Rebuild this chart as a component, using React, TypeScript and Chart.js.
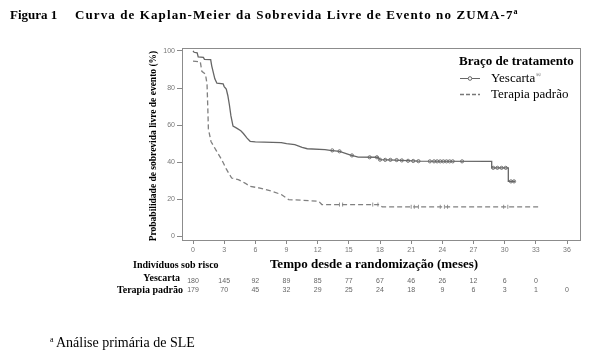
import React, { useEffect, useRef } from "react";
import { Chart, registerables } from "chart.js";
Chart.register(...registerables);

const xTicks = [0, 3, 6, 9, 12, 15, 18, 21, 24, 27, 30, 33, 36];
const yTicks = [0, 20, 40, 60, 80, 100];

const yescartaT = [0, 0.1, 0.4, 0.5, 1.0, 1.1, 1.7, 1.8, 2.1, 2.3, 2.9, 3.0, 3.2, 3.35, 3.5, 3.65, 3.85, 4.2, 4.6, 4.85, 5.2, 5.5, 6, 8.5, 9.0, 9.8, 10.5, 11, 12.7, 13.2, 14.1, 15.1, 15.9, 17.8, 18.0, 19.5, 21.7, 28.75, 28.75, 30.35, 30.35, 31.0];
const yescartaS = [100, 99.3, 99, 96.8, 96.5, 95.5, 95.3, 92, 85, 82.6, 82.3, 80.8, 79.5, 76, 71, 65, 59.5, 58.4, 57, 55.5, 53, 51.3, 51, 50.6, 50, 49.5, 48, 47.3, 46.8, 46.4, 45.9, 44, 42.8, 42.7, 41.4, 41.2, 40.6, 40.5, 37, 37, 29.7, 29.7];

const padraoT = [0, 0.7, 0.85, 1.2, 1.35, 1.42, 1.48, 1.73, 2.28, 2.76, 3.24, 3.72, 4.36, 5, 5.5, 6.45, 7.6, 8.5, 9.2, 12.1, 12.4, 18, 18.2, 33.3];
const padraoS = [94.5, 94.2, 89, 87.5, 82, 70, 58, 51.2, 45.9, 41.4, 36, 31.5, 30.6, 28.8, 27, 26.1, 24.4, 22.6, 19.9, 19, 17.2, 17.2, 16, 16];

const yesCensorT = [13.4, 14.1, 15.3, 17.0, 17.7, 18.0, 18.5, 19.0, 19.6, 20.1, 20.7, 21.2, 21.7, 22.8, 23.2, 23.5, 23.8, 24.1, 24.4, 24.7, 25.0, 25.9, 28.9, 29.3, 29.7, 30.1, 30.6, 30.9];
const yesCensorS = [46.4, 45.9, 43.7, 42.7, 42.7, 41.4, 41.3, 41.3, 41.2, 41.0, 40.8, 40.7, 40.6, 40.5, 40.5, 40.5, 40.5, 40.5, 40.5, 40.5, 40.5, 40.5, 37, 37, 37, 37, 29.7, 29.7];

const padCensorT = [14.1, 14.4, 17.3, 17.8, 21.0, 21.3, 21.7, 23.8, 24.2, 24.5, 29.9, 30.3];
const padCensorS = [17.2, 17.2, 17.2, 17.2, 16, 16, 16, 16, 16, 16, 16, 16];

const riskTimesYes = [0, 3, 6, 9, 12, 15, 18, 21, 24, 27, 30, 33];
const riskYes = [180, 145, 92, 89, 85, 77, 67, 46, 26, 12, 6, 0];
const riskTimesPad = [0, 3, 6, 9, 12, 15, 18, 21, 24, 27, 30, 33, 36];
const riskPad = [179, 70, 45, 32, 29, 25, 24, 18, 9, 6, 3, 1, 0];

const SERIF = '"Liberation Serif", "DejaVu Serif", serif';
const SANS = '"Liberation Sans", Arial, sans-serif';

const overlay = {
  id: "overlay",
  afterDraw(chart: any) {
    const ctx = chart.ctx as any;
    const a = chart.chartArea;
    const xs = chart.scales.x;
    ctx.save();
    // box
    ctx.strokeStyle = "#8c8c8c";
    ctx.lineWidth = 1;
    ctx.strokeRect(Math.round(a.left) + 0.5, Math.round(a.top) + 0.5, Math.round(a.right - a.left), Math.round(a.bottom - a.top));

    ctx.fillStyle = "#000";
    ctx.textBaseline = "middle";
    // title
    ctx.font = `bold 13px ${SERIF}`;
    ctx.textAlign = "left";
    ctx.fillText("Figura 1", 10, 16);
    const main = "Curva de Kaplan-Meier da Sobrevida Livre de Evento no ZUMA-7";
    ctx.letterSpacing = "1.1px";
    ctx.fillText(main, 75, 16);
    const tw = ctx.measureText(main).width;
    ctx.letterSpacing = "0px";
    ctx.font = `bold 8px ${SERIF}`;
    ctx.fillText("a", 75 + tw, 12);

    // y title
    ctx.save();
    ctx.translate(154, 146);
    ctx.rotate(-Math.PI / 2);
    ctx.font = `bold 9.5px ${SERIF}`;
    ctx.textAlign = "center";
    ctx.fillText("Probabilidade de sobrevida livre de evento (%)", 0, 0);
    ctx.restore();

    // x title
    ctx.font = `bold 13px ${SERIF}`;
    ctx.textAlign = "center";
    ctx.fillText("Tempo desde a randomização (meses)", 374, 265);

    // risk table
    ctx.font = `bold 10px ${SERIF}`;
    ctx.textAlign = "left";
    ctx.fillText("Indivíduos sob risco", 133, 265);
    ctx.textAlign = "right";
    ctx.fillText("Yescarta", 180, 278);
    ctx.fillText("Terapia padrão", 183, 290);
    ctx.font = `7px ${SANS}`;
    ctx.fillStyle = "#666";
    ctx.textAlign = "center";
    riskTimesYes.forEach((t, i) => ctx.fillText(String(riskYes[i]), xs.getPixelForValue(t), 281));
    riskTimesPad.forEach((t, i) => ctx.fillText(String(riskPad[i]), xs.getPixelForValue(t), 290));

    // legend
    ctx.fillStyle = "#000";
    ctx.textAlign = "left";
    ctx.font = `bold 13px ${SERIF}`;
    ctx.fillText("Braço de tratamento", 459, 62);
    ctx.strokeStyle = "#666";
    ctx.lineWidth = 1;
    ctx.beginPath();
    ctx.moveTo(460, 78.5);
    ctx.lineTo(480, 78.5);
    ctx.stroke();
    ctx.fillStyle = "#fff";
    ctx.beginPath();
    ctx.arc(470, 78.5, 1.8, 0, Math.PI * 2);
    ctx.fill();
    ctx.stroke();
    ctx.strokeStyle = "#777";
    ctx.lineWidth = 1.3;
    ctx.setLineDash([4, 2]);
    ctx.beginPath();
    ctx.moveTo(460, 94.5);
    ctx.lineTo(480, 94.5);
    ctx.stroke();
    ctx.setLineDash([]);
    ctx.fillStyle = "#000";
    ctx.font = `13px ${SERIF}`;
    ctx.fillText("Yescarta", 491, 79);
    const yw = ctx.measureText("Yescarta").width;
    ctx.font = `7px ${SERIF}`;
    ctx.fillStyle = "#555";
    ctx.fillText("®", 491 + yw + 0.5, 75);
    ctx.fillStyle = "#000";
    ctx.font = `13px ${SERIF}`;
    ctx.fillText("Terapia padrão", 491, 95);

    // footnote
    ctx.font = `8px ${SERIF}`;
    ctx.fillText("a", 50, 340);
    ctx.font = `14px ${SERIF}`;
    ctx.fillText("Análise primária de SLE", 56, 343);
    ctx.restore();
  },
};

export default function App() {
  const ref = useRef<HTMLCanvasElement>(null);
  useEffect(() => {
    if (!ref.current) return;
    const chart = new Chart(ref.current, {
      type: "line",
      data: {
        datasets: [
          {
            label: "Yescarta",
            data: yescartaT.map((t, i) => ({ x: t, y: yescartaS[i] })),
            borderColor: "#666",
            borderWidth: 1.3,
            pointRadius: 0,
            fill: false,
            tension: 0,
          },
          {
            label: "Terapia padrão",
            data: padraoT.map((t, i) => ({ x: t, y: padraoS[i] })),
            borderColor: "#808080",
            borderWidth: 1.3,
            borderDash: [5, 3],
            pointRadius: 0,
            fill: false,
            tension: 0,
          },
          {
            label: "Yescarta censura",
            data: yesCensorT.map((t, i) => ({ x: t, y: yesCensorS[i] })),
            showLine: false,
            pointStyle: "circle",
            pointRadius: 1.6,
            pointBorderWidth: 0.8,
            pointBorderColor: "#555",
            pointBackgroundColor: "rgba(255,255,255,0)",
          },
          {
            label: "Padrão censura",
            data: padCensorT.map((t, i) => ({ x: t, y: padCensorS[i] })),
            showLine: false,
            pointStyle: "line",
            rotation: 90,
            pointRadius: 2,
            pointBorderWidth: 0.8,
            pointBorderColor: "#777",
          },
        ],
      },
      options: {
        animation: false,
        responsive: false,
        layout: { padding: { left: 0, top: 48, right: 33, bottom: 0 } },
        plugins: { legend: { display: false }, tooltip: { enabled: false }, title: { display: false } },
        scales: {
          x: {
            type: "linear",
            min: -1.06,
            max: 37.25,
            afterBuildTicks: (s: any) => {
              s.ticks = xTicks.map((v) => ({ value: v }));
            },
            afterFit: (s: any) => {
              s.height = 357 - 240;
            },
            grid: { drawOnChartArea: false, drawTicks: true, tickLength: 4, tickColor: "#888" },
            border: { display: false },
            ticks: { color: "#777", font: { family: SANS, size: 7 }, padding: 2, maxRotation: 0, autoSkip: false },
          },
          y: {
            type: "linear",
            min: -1.9,
            max: 101.6,
            afterBuildTicks: (s: any) => {
              s.ticks = yTicks.map((v) => ({ value: v }));
            },
            afterFit: (s: any) => {
              s.width = 182;
            },
            grid: { drawOnChartArea: false, drawTicks: true, tickLength: 5, tickColor: "#888" },
            border: { display: false },
            ticks: { color: "#777", font: { family: SANS, size: 7 }, padding: 2, autoSkip: false },
          },
        },
      },
      plugins: [overlay],
    } as any);
    return () => chart.destroy();
  }, []);
  return (
    <div style={{ position: "absolute", left: 0, top: 0, width: 613, height: 357, background: "#fff" }}>
      <canvas ref={ref} width={613} height={357} />
    </div>
  );
}
